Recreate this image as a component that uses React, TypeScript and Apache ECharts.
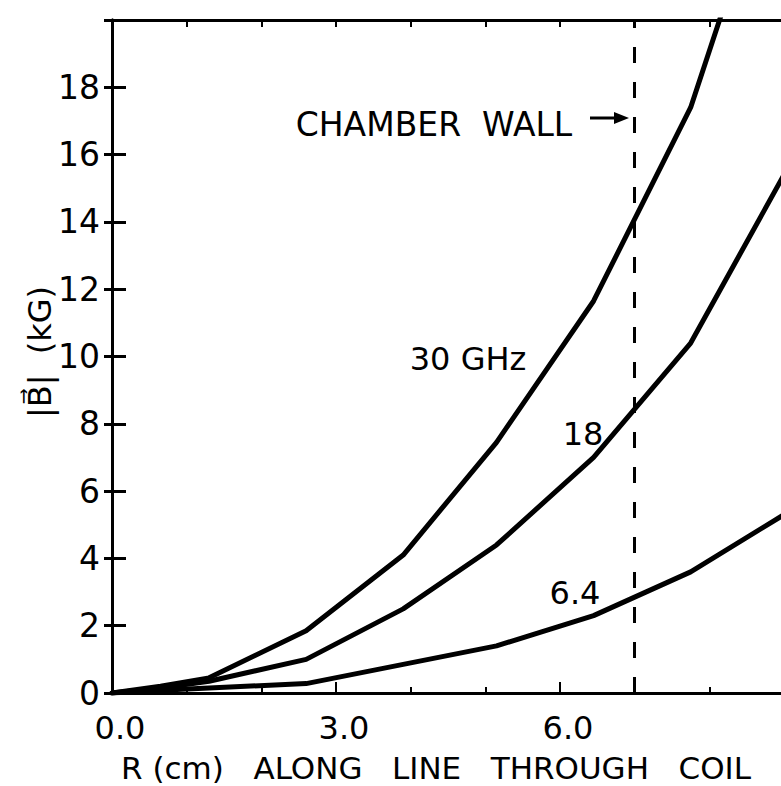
import React, { useEffect, useRef } from "react";
import * as echarts from "echarts";

const rCm = [0, 0.65, 1.3, 2.6, 3.9, 5.15, 6.45, 7.75, 9.0];
const b30GHz = [0, 0.2, 0.45, 1.85, 4.1, 7.45, 11.65, 17.4, 25.8];
const b18GHz = [0, 0.15, 0.35, 1.0, 2.5, 4.4, 7.0, 10.4, 15.4];
const b64GHz = [0, 0.08, 0.15, 0.28, 0.85, 1.4, 2.3, 3.6, 5.3];
const chamberWallR = 7.0;
const xTickLabels: Record<number, string> = { 0: "0.0", 3: "3.0", 6: "6.0" };

const FONT = "DejaVu Sans";

export default function App() {
  const ref = useRef<HTMLDivElement>(null);
  useEffect(() => {
    if (!ref.current) return;
    const chart = echarts.init(ref.current, undefined, { renderer: "svg" });
    const mk = (ys: number[]) => rCm.map((x, i) => [x, ys[i]]);
    const lineSeries = (name: string, ys: number[], extra: any = {}) => ({
      name,
      type: "line",
      data: mk(ys),
      symbol: "none",
      clip: true,
      lineStyle: { color: "#000", width: 5, cap: "round", join: "round" },
      ...extra,
    });
    const grid = { left: 112, top: 20, right: 6, bottom: 93, containLabel: false };
    chart.setOption({
      animation: false,
      backgroundColor: "#fff",
      grid,
      xAxis: [
        {
          type: "value",
          position: "bottom",
          min: 0,
          max: 9,
          interval: 1,
          axisLine: { show: true, lineStyle: { color: "#000", width: 3 } },
          axisTick: { show: true, inside: true, length: 6, lineStyle: { color: "#000", width: 2 } },
          axisLabel: {
            show: true,
            formatter: (v: number) => xTickLabels[v] ?? "",
            color: "#000",
            fontFamily: FONT,
            fontSize: 32,
            margin: 19,
            padding: [0, 0, 0, 16],
          },
          splitLine: { show: false },
        },
        {
          type: "value",
          position: "bottom",
          min: 0,
          max: 9,
          interval: 3,
          axisLine: { show: false },
          axisTick: { show: true, inside: true, length: 11, lineStyle: { color: "#000", width: 2 } },
          axisLabel: { show: false },
          splitLine: { show: false },
        },
        {
          type: "value",
          position: "top",
          min: 0,
          max: 9,
          interval: 1,
          axisLine: { show: true, lineStyle: { color: "#000", width: 3 } },
          axisTick: { show: true, inside: true, length: 7, lineStyle: { color: "#000", width: 2 } },
          axisLabel: { show: false },
          splitLine: { show: false },
        },
      ],
      yAxis: [
        {
          type: "value",
          position: "left",
          min: 0,
          max: 20,
          interval: 2,
          axisLine: { show: true, lineStyle: { color: "#000", width: 3 } },
          axisTick: { show: true, inside: true, length: 14, lineStyle: { color: "#000", width: 3 } },
          axisLabel: {
            show: true,
            formatter: (v: number) => (v >= 20 ? "" : String(v)),
            color: "#000",
            fontFamily: FONT,
            fontSize: 33,
            margin: 12,
          },
          splitLine: { show: false },
        },
        {
          type: "value",
          position: "right",
          min: 0,
          max: 20,
          interval: 2,
          axisLine: { show: true, lineStyle: { color: "#000", width: 3 } },
          axisTick: { show: true, inside: true, length: 8, lineStyle: { color: "#000", width: 3 } },
          axisLabel: { show: false },
          splitLine: { show: false },
        },
      ],
      series: [
        lineSeries("30 GHz", b30GHz, {
          markLine: {
            silent: true,
            symbol: "none",
            label: { show: false },
            lineStyle: { color: "#000", width: 3, type: [16, 19] },
            data: [{ xAxis: chamberWallR }],
          },
        }),
        lineSeries("18", b18GHz),
        lineSeries("6.4", b64GHz),
      ],
      graphic: [
        {
          type: "text",
          x: 468,
          y: 359,
          style: { text: "30 GHz", font: `32px "${FONT}"`, fill: "#000", align: "center", verticalAlign: "middle" },
        },
        {
          type: "text",
          x: 583,
          y: 434,
          style: { text: "18", font: `32px "${FONT}"`, fill: "#000", align: "center", verticalAlign: "middle" },
        },
        {
          type: "text",
          x: 575,
          y: 593,
          style: { text: "6.4", font: `32px "${FONT}"`, fill: "#000", align: "center", verticalAlign: "middle" },
        },
        {
          type: "text",
          x: 434,
          y: 124,
          style: { text: "CHAMBER  WALL", font: `33px "${FONT}"`, fill: "#000", align: "center", verticalAlign: "middle" },
        },
        {
          type: "line",
          shape: { x1: 590, y1: 118, x2: 618, y2: 118 },
          style: { stroke: "#000", lineWidth: 3 },
        },
        {
          type: "polygon",
          shape: { points: [[629, 118], [614, 112], [614, 124]] },
          style: { fill: "#000" },
        },
        {
          type: "text",
          x: 40,
          y: 352,
          rotation: Math.PI / 2,
          style: { text: "|B\u20D7|  (kG)", font: `32px "${FONT}"`, fill: "#000", align: "center", verticalAlign: "middle" },
        },
        {
          type: "text",
          x: 436,
          y: 768,
          style: {
            text: "R (cm)   ALONG   LINE   THROUGH   COIL",
            font: `31px "${FONT}"`,
            fill: "#000",
            align: "center",
            verticalAlign: "middle",
          },
        },
      ],
    });
    return () => chart.dispose();
  }, []);
  return (
    <div style={{ width: 781, height: 786, position: "absolute", left: 0, top: 0, overflow: "hidden", background: "#fff" }}>
      <div ref={ref} style={{ width: 790, height: 786 }} />
    </div>
  );
}
